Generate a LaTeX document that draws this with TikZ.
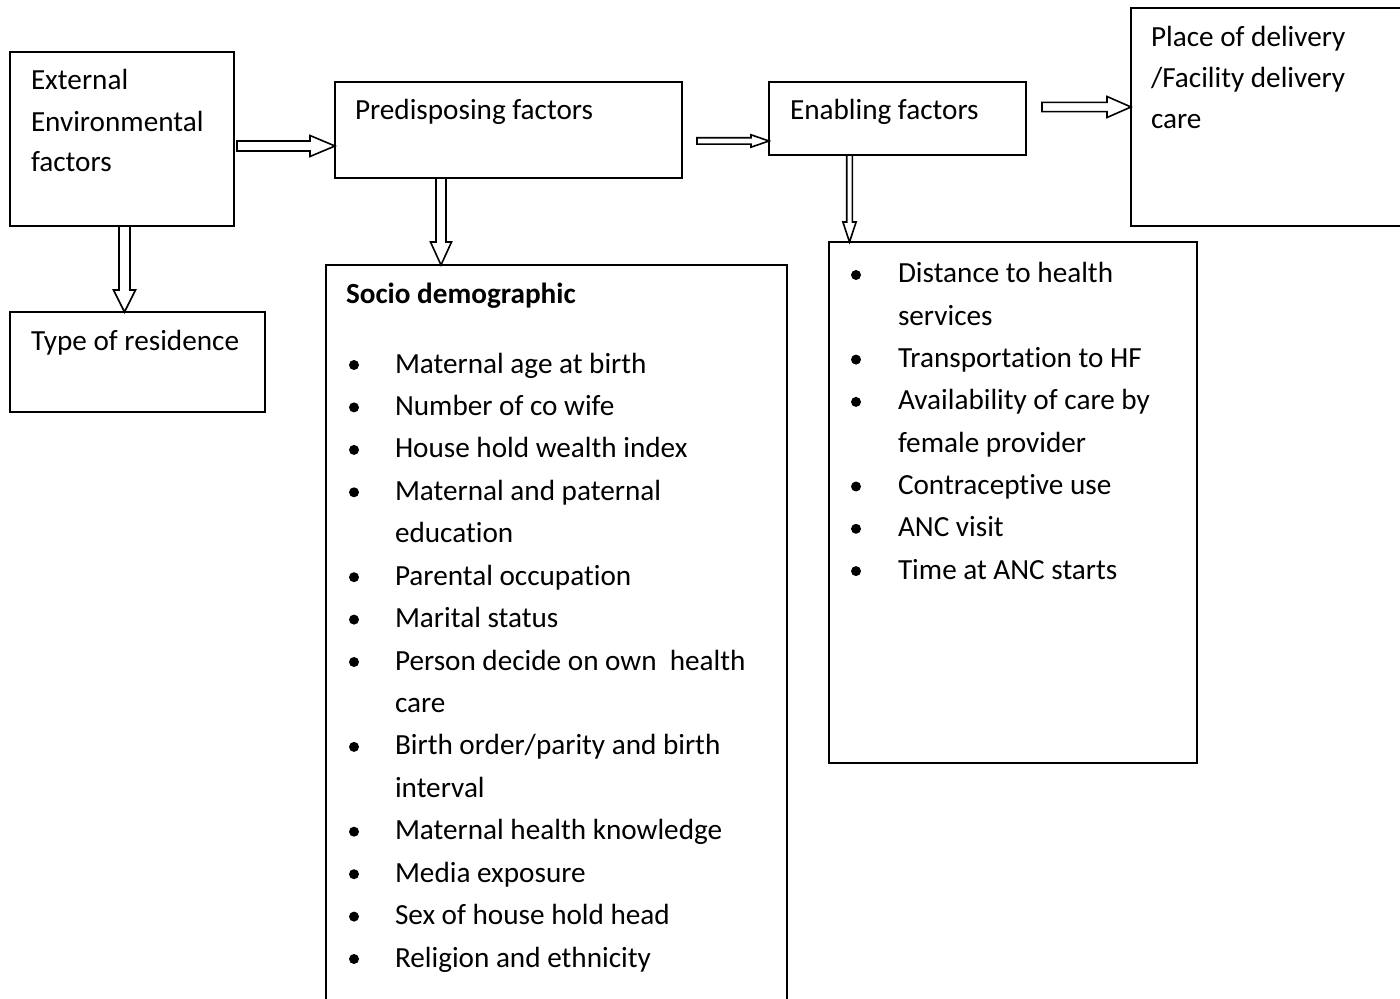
\documentclass[tikz,border=0pt]{standalone}
\usepackage{fontspec}
\setmainfont{Carlito}[Ligatures={NoCommon,NoContextual,NoRare,NoDiscretionary},Contextuals=NoAlternate]
\usetikzlibrary{calc}
\newcommand\tisep{\kern0pt }
\newcommand\hblockarrow[5]{%
 \draw[barrow] let \p1=(#1), \p2=(#2) in (\x1,\y1+#3) -- (\x2-#5,\y1+#3) -- (\x2-#5,\y1+#4) -- (\x2,\y1) -- (\x2-#5,\y1-#4) -- (\x2-#5,\y1-#3) -- (\x1,\y1-#3) -- cycle;}
\newcommand\vblockarrow[5]{%
 \draw[barrow] let \p1=(#1), \p2=(#2) in (\x1+#3,\y1) -- (\x1+#3,\y2+#5) -- (\x1+#4,\y2+#5) -- (\x1,\y2) -- (\x1-#4,\y2+#5) -- (\x1-#3,\y2+#5) -- (\x1-#3,\y1) -- cycle;}
\begin{document}
\begin{tikzpicture}[x=0.5pt,y=-0.5pt,
  box/.style={draw=black,line width=1pt,rectangle,inner sep=0pt,outer sep=0pt,anchor=north west},
  txt/.style={inner sep=0pt,outer sep=0pt,anchor=base west,font=\fontsize{14.6pt}{21.2pt}\selectfont},
  bul/.style={circle,fill=black,inner sep=0pt,minimum size=5pt},
  barrow/.style={draw=black,line width=0.8pt,fill=white,line join=miter}]
\useasboundingbox (0,0) rectangle (1400,999);
\fill[white] (0,0) rectangle (1400,999);
% boxes
\node[box,minimum width=112pt,minimum height=87pt] (ext) at (10,52) {};
\node[box,minimum width=127.5pt,minimum height=50pt] (res) at (10,312) {};
\node[box,minimum width=173.5pt,minimum height=48pt] (pre) at (335,82) {};
\node[box,minimum width=230.5pt,minimum height=375pt] (soc) at (326,265) {};
\node[box,minimum width=128.5pt,minimum height=36.5pt] (ena) at (769,82) {};
\node[box,minimum width=184pt,minimum height=260.5pt] (enl) at (829,242) {};
\node[box,minimum width=141pt,minimum height=109pt] (plc) at (1131,8) {};
% texts in boxes
\node[txt] (t-ext1) at (31,90) {External};
\node[txt] (t-ext2) at (31,132) {Environmental};
\node[txt] (t-ext3) at (31,172) {factors};
\node[txt] (t-res) at (31,351) {Type of residence};
\node[txt] (t-pre) at (355,120) {Predisposing factors};
\node[txt] (t-ena) at (790,120) {Enabling factors};
\node[txt] (t-plc1) at (1151,47) {Place of delivery};
\node[txt] (t-plc2) at (1151,88) {/Facility delivery};
\node[txt] (t-plc3) at (1151,129) {care};
\node[txt,font=\fontsize{14.6pt}{21.2pt}\selectfont\bfseries] (t-soc) at (346,304) {Socio demographic};
% socio list
\node[bul] (sb0) at (354,365) {}; \node[txt] (s0) at (395,373) {Maternal age at birth};
\node[bul] (sb1) at (354,407.4) {}; \node[txt] (s1) at (395,415.4) {Number of co wife};
\node[bul] (sb2) at (354,449.9) {}; \node[txt] (s2) at (395,457.9) {House hold wealth index};
\node[bul] (sb3) at (354,492.3) {}; \node[txt] (s3) at (395,500.3) {Maternal and paternal};
\node[txt] (s4) at (395,542.7) {educat\tisep ion};
\node[bul] (sb5) at (354,577.2) {}; \node[txt] (s5) at (395,585.2) {Parental occupat\tisep ion};
\node[bul] (sb6) at (354,619.6) {}; \node[txt] (s6) at (395,627.6) {Marital status};
\node[bul] (sb7) at (354,662) {}; \node[txt] (s7) at (395,670) {Person decide on own\ \ health};
\node[txt] (s8) at (395,712.4) {care};
\node[bul] (sb9) at (354,746.9) {}; \node[txt] (s9) at (395,754.9) {Birth order/parity and birth};
\node[txt] (s10) at (395,797.3) {interval};
\node[bul] (sb11) at (354,831.7) {}; \node[txt] (s11) at (395,839.7) {Maternal health knowledge};
\node[bul] (sb12) at (354,874.2) {}; \node[txt] (s12) at (395,882.2) {Media exposure};
\node[bul] (sb13) at (354,916.6) {}; \node[txt] (s13) at (395,924.6) {Sex of house hold head};
\node[bul] (sb14) at (354,959) {}; \node[txt] (s14) at (395,967) {Religion and ethnicity};
% enabling list
\node[bul] (eb0) at (856,275) {}; \node[txt] (e0) at (898,283) {Distance to health};
\node[txt] (e1) at (898,325.3) {services};
\node[bul] (eb2) at (856,359.6) {}; \node[txt] (e2) at (898,367.6) {Transportat\tisep ion to HF};
\node[bul] (eb3) at (856,401.9) {}; \node[txt] (e3) at (898,409.9) {Availability of care by};
\node[txt] (e4) at (898,452.2) {female provider};
\node[bul] (eb5) at (856,486.5) {}; \node[txt] (e5) at (898,494.5) {Contracept\tisep ive use};
\node[bul] (eb6) at (856,528.8) {}; \node[txt] (e6) at (898,536.8) {ANC visit};
\node[bul] (eb7) at (856,571.1) {}; \node[txt] (e7) at (898,579.1) {Time at ANC starts};
% arrow end points
\coordinate (a1s) at ([xshift=1.5pt]ext.east |- 0,146);
\coordinate (a1e) at (pre.west |- 0,146);
\coordinate (a2s) at (ext.south -| 124.5,0);
\coordinate (a2e) at (res.north -| 124.5,0);
\coordinate (a3s) at ([xshift=7.5pt]pre.east |- 0,141);
\coordinate (a3e) at (ena.west |- 0,141);
\coordinate (a4s) at (pre.south -| 441,0);
\coordinate (a4e) at (soc.north -| 441,0);
\coordinate (a5s) at (ena.south -| 849.5,0);
\coordinate (a5e) at (enl.north -| 849.5,0);
\coordinate (a6s) at ([xshift=8pt]ena.east |- 0,107);
\coordinate (a6e) at (plc.west |- 0,107);
% block arrows
\hblockarrow{a1s}{a1e}{2.5pt}{5.25pt}{12.5pt}
\vblockarrow{a2s}{a2e}{2.75pt}{5.5pt}{11pt}
\hblockarrow{a3s}{a3e}{1.6pt}{3.1pt}{9pt}
\vblockarrow{a4s}{a4e}{2.5pt}{5.25pt}{11.5pt}
\vblockarrow{a5s}{a5e}{1.4pt}{3.3pt}{10pt}
\hblockarrow{a6s}{a6e}{2.3pt}{5.25pt}{12pt}
\end{tikzpicture}
\end{document}
